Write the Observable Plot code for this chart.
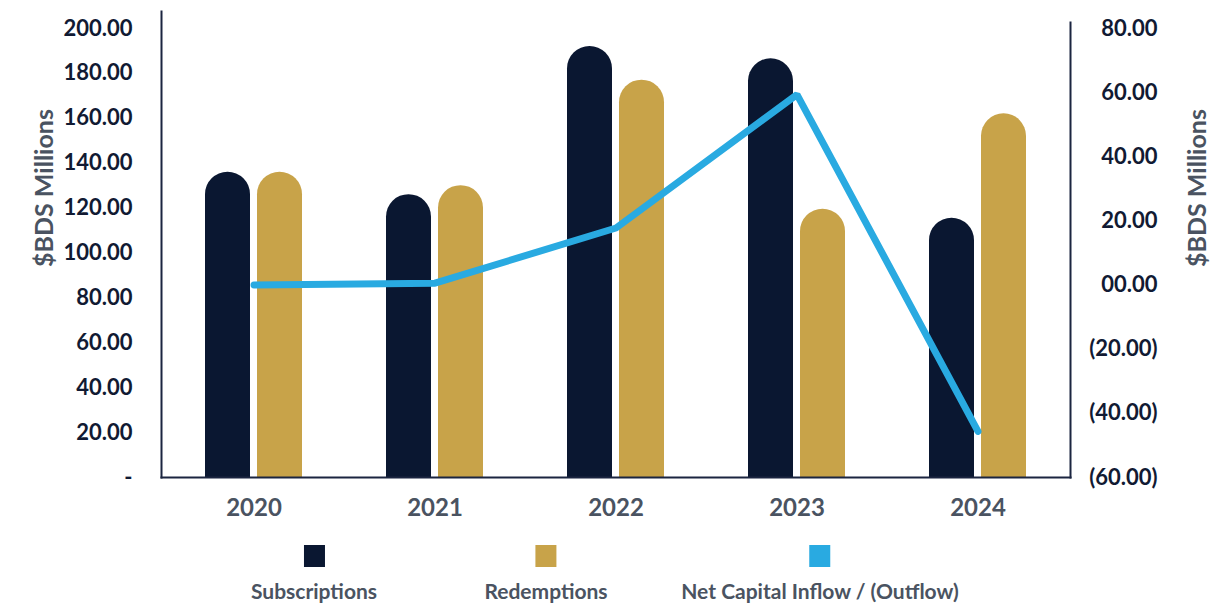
<!DOCTYPE html>
<html>
<head>
<meta charset="utf-8">
<script src="https://cdn.jsdelivr.net/npm/d3@7"></script>
<script src="https://cdn.jsdelivr.net/npm/@observablehq/plot@0.6"></script>
<style>
  body { margin: 0; background: #fff; font-family: Lato, "Open Sans", sans-serif; }
  #wrap { width: 1214px; position: relative; }
  #legend { position: relative; width: 1214px; height: 73px; }
  .item { position: absolute; top: 0; transform: translateX(-50%); text-align: center; }
  .sw { width: 21px; height: 22px; margin: 15px auto 0 auto; }
  .lab { margin-top: 13px; font-size: 21px; font-weight: 700; color: #4a5361; white-space: nowrap; line-height: 21px; }
  .ytitle { position: absolute; font-size: 25px; font-weight: 700; color: #4a5361; white-space: nowrap; line-height: 25px; transform: translate(-50%, -50%) rotate(-90deg); }
</style>
</head>
<body>
<div id="wrap"></div>
<script>
const years = ["2020", "2021", "2022", "2023", "2024"];
const subscriptions = [136, 126, 192, 186.5, 115.5];
const redemptions = [136, 130, 177, 119.5, 162];
const netFlow = [0, 0.6, 17.8, 59.4, -45.6];
const leftTicks = [0, 20, 40, 60, 80, 100, 120, 140, 160, 180, 200];
const rightTicks = [-60, -40, -20, 0, 20, 40, 60, 80];
const seriesNames = ["Subscriptions", "Redemptions", "Net Capital Inflow / (Outflow)"];
const seriesColors = ["#0a1731", "#c8a349", "#29aae1"];
const axisTitle = "$BDS Millions";

const data = years.map((y, i) => ({year: y, subs: subscriptions[i], red: redemptions[i], net: netFlow[i]}));

// map right axis (-60..80) onto left axis (0..200)
const toLeft = v => (v + 60) * 200 / 140;
const toRight = v => Math.round((v * 140 / 200 - 60) * 100) / 100;
const fmtLeft = v => v === 0 ? "-" : v.toFixed(2);
const fmtRight = v => {
  const r = toRight(v);
  if (Math.abs(r) < 1e-9) return "00.00";
  return r < 0 ? "(" + Math.abs(r).toFixed(2) + ")" : r.toFixed(2);
};

const axisColor = "#1b2540";
const tickColor = "#111a33";
const greyText = "#4a5361";
const font = "Lato, 'Open Sans', sans-serif";

const chart = Plot.plot({
  width: 1214,
  height: 530,
  marginLeft: 161,
  marginRight: 144,
  marginTop: 11,
  marginBottom: 53,
  style: {fontFamily: font, background: "#fff"},
  x: {domain: years, padding: 0, axis: null},
  y: {domain: [0, 200 * 466 / 449], axis: null},
  marks: [
    Plot.barY(data, {x: "year", y: "subs", fill: seriesColors[0], insetLeft: 42, insetRight: 94, ry1: 23}),
    Plot.barY(data, {x: "year", y: "red", fill: seriesColors[1], insetLeft: 94, insetRight: 42, ry1: 23}),
    Plot.line(data, {x: "year", y: d => toLeft(d.net), stroke: seriesColors[2], strokeWidth: 7, strokeLinecap: "round", strokeLinejoin: "miter"}),
    Plot.frame({anchor: "left", stroke: axisColor, strokeWidth: 2}),
    Plot.frame({anchor: "bottom", stroke: axisColor, strokeWidth: 2}),
    Plot.frame({anchor: "right", stroke: axisColor, strokeWidth: 2, insetTop: 11}),
    Plot.axisY({anchor: "left", ticks: leftTicks, tickFormat: fmtLeft, tickSize: 0, tickPadding: 29, fontSize: 22, fontWeight: 700, fill: tickColor, label: null}),
    Plot.axisY({anchor: "right", ticks: rightTicks.map(toLeft), tickFormat: fmtRight, tickSize: 0, tickPadding: 87, textAnchor: "end", fontSize: 22, fontWeight: 700, fill: tickColor, label: null}),
    Plot.axisX({anchor: "bottom", tickSize: 0, tickPadding: 21, fontSize: 24, fontWeight: 700, fill: greyText, label: null})
  ]
});

const wrap = document.getElementById("wrap");
wrap.appendChild(chart);

[[43, 188], [1196, 188]].forEach(([cx, cy]) => {
  const t = document.createElement("div");
  t.className = "ytitle";
  t.style.left = cx + "px";
  t.style.top = cy + "px";
  t.textContent = axisTitle;
  wrap.appendChild(t);
});

const legend = document.createElement("div");
legend.id = "legend";
const centers = [314, 546, 820];
seriesNames.forEach((name, i) => {
  const item = document.createElement("div");
  item.className = "item";
  item.style.left = centers[i] + "px";
  const sw = document.createElement("div");
  sw.className = "sw";
  sw.style.background = seriesColors[i];
  const lab = document.createElement("div");
  lab.className = "lab";
  lab.textContent = name;
  item.appendChild(sw);
  item.appendChild(lab);
  legend.appendChild(item);
});
wrap.appendChild(legend);
</script>
</body>
</html>
